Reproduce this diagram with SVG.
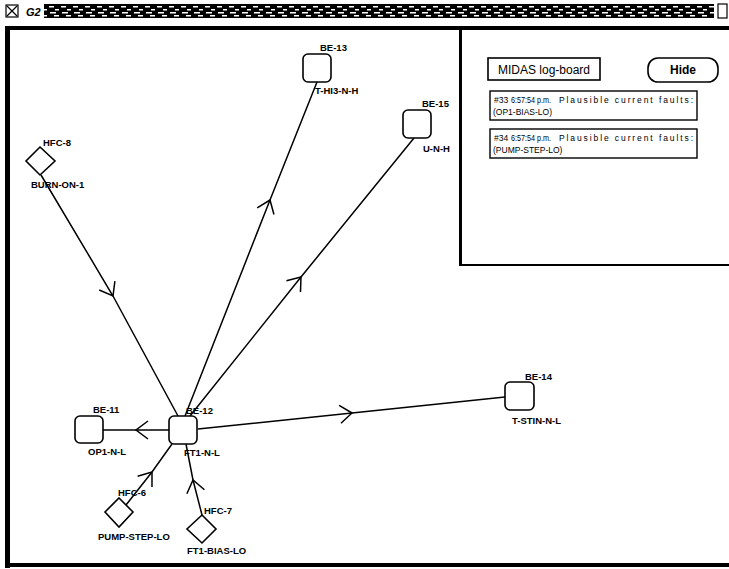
<svg xmlns="http://www.w3.org/2000/svg" width="729" height="569" viewBox="0 0 729 569">
<defs>
<style>
.lbl{font-family:"Liberation Sans",Arial,sans-serif;font-size:9.5px;font-weight:bold;fill:#000}
.ptx{font-family:"Liberation Sans",Arial,sans-serif;fill:#000}
.log{font-family:"Liberation Sans",Arial,sans-serif;font-size:8.5px;fill:#000}
.node{fill:#fff;stroke:#000;stroke-width:1.6}
.edge{fill:none;stroke:#000;stroke-width:1.5;marker-mid:url(#chev)}
</style>
<marker id="chev" viewBox="-15 -11 17 22" refX="0" refY="0" markerWidth="17" markerHeight="22" markerUnits="userSpaceOnUse" orient="auto">
<path d="M-12,-9 L0,0 L-12,9" fill="none" stroke="#000" stroke-width="1.5"/>
</marker>
<pattern id="tb" x="0" y="4" width="12" height="14" patternUnits="userSpaceOnUse">
<rect width="12" height="14" fill="#000"/>
<rect x="1" y="2" width="5" height="1.5" fill="#fff"/>
<rect x="7" y="5" width="4" height="1.5" fill="#fff"/>
<rect x="2" y="8" width="6" height="1.5" fill="#fff"/>
<rect x="6" y="11" width="5" height="1.5" fill="#fff"/>
</pattern>
</defs>
<rect width="729" height="569" fill="#fff"/>
<g id="window">
<rect x="44" y="4" width="670" height="14" fill="url(#tb)"/>
<rect x="6" y="5" width="12" height="12" fill="#fff" stroke="#000" stroke-width="1.2"/>
<path d="M7,6 L17,16 M17,6 L7,16" stroke="#000" stroke-width="1.2"/>
<text x="26" y="16" class="ptx" font-size="11" font-style="italic" font-weight="bold">G2</text>
<rect x="718" y="4" width="9" height="14" fill="#fff" stroke="#000" stroke-width="1.2"/>
<rect x="5" y="26" width="724" height="4" fill="#000"/>
<rect x="5" y="26" width="5" height="542" fill="#000"/>
<rect x="5" y="563" width="724" height="4" fill="#000"/>
</g>
<g id="logboard">
<rect x="459" y="28" width="3" height="238" fill="#000"/>
<rect x="459" y="264" width="270" height="2" fill="#000"/>
<rect x="488" y="58" width="112" height="22" fill="#fff" stroke="#000" stroke-width="1.6"/>
<text x="544" y="74" class="ptx" font-size="12" text-anchor="middle">MIDAS log-board</text>
<rect x="648" y="58" width="70" height="24" rx="10" fill="#fff" stroke="#000" stroke-width="1.6"/>
<text x="683" y="74" class="ptx" font-size="12" font-weight="bold" text-anchor="middle">Hide</text>
<rect x="490" y="91" width="207" height="29" fill="#fff" stroke="#000" stroke-width="1.4"/>
<text x="494" y="103" class="log">#33</text>
<text x="511" y="103" class="log" textLength="40" lengthAdjust="spacingAndGlyphs">6:57:54 p.m.</text>
<text x="559" y="103" class="log" textLength="134" lengthAdjust="spacing">Plausible current faults:</text>
<text x="493" y="115" class="log">(OP1-BIAS-LO)</text>
<rect x="490" y="129" width="207" height="29" fill="#fff" stroke="#000" stroke-width="1.4"/>
<text x="494" y="141" class="log">#34</text>
<text x="511" y="141" class="log" textLength="40" lengthAdjust="spacingAndGlyphs">6:57:54 p.m.</text>
<text x="559" y="141" class="log" textLength="134" lengthAdjust="spacing">Plausible current faults:</text>
<text x="493" y="153" class="log">(PUMP-STEP-LO)</text>
</g>
<g id="connectors">
<polyline class="edge" points="41,175 113,296 178,416"/>
<polyline class="edge" points="185,416 270,200 317,82"/>
<polyline class="edge" points="190,416 301,277 414,138"/>
<polyline class="edge" points="169,430 136,430 103,430"/>
<polyline class="edge" points="198,429 352,413 505,397"/>
<polyline class="edge" points="126,505 152,472 172,444"/>
<polyline class="edge" points="202,515 193,480 186,444"/>
</g>
<g id="BE-13">
<rect class="node" x="303" y="54" width="28" height="28" rx="5"/>
<text class="lbl" x="320" y="51">BE-13</text>
<text class="lbl" x="315" y="94">T-HI3-N-H</text>
</g>
<g id="BE-15">
<rect class="node" x="403" y="110" width="28" height="28" rx="5"/>
<text class="lbl" x="422" y="107">BE-15</text>
<text class="lbl" x="423" y="152">U-N-H</text>
</g>
<g id="HFC-8">
<polygon class="node" points="40,147 55,161 40,175 26,161"/>
<text class="lbl" x="43" y="146">HFC-8</text>
<text class="lbl" x="31" y="188">BURN-ON-1</text>
</g>
<g id="BE-12">
<rect class="node" x="169" y="416" width="28" height="28" rx="5"/>
<text class="lbl" x="186" y="414">BE-12</text>
<text class="lbl" x="184" y="456">FT1-N-L</text>
</g>
<g id="BE-11">
<rect class="node" x="75" y="416" width="28" height="27" rx="5"/>
<text class="lbl" x="93" y="413">BE-11</text>
<text class="lbl" x="88" y="455">OP1-N-L</text>
</g>
<g id="BE-14">
<rect class="node" x="505" y="382" width="29" height="28" rx="5"/>
<text class="lbl" x="525" y="380">BE-14</text>
<text class="lbl" x="512" y="424">T-STIN-N-L</text>
</g>
<g id="HFC-6">
<polygon class="node" points="119,498 133,512 119,527 105,512"/>
<text class="lbl" x="118" y="496">HFC-6</text>
<text class="lbl" x="98" y="540">PUMP-STEP-LO</text>
</g>
<g id="HFC-7">
<polygon class="node" points="202,515 216,529 202,543 187,529"/>
<text class="lbl" x="204" y="514">HFC-7</text>
<text class="lbl" x="187" y="554">FT1-BIAS-LO</text>
</g>
</svg>
